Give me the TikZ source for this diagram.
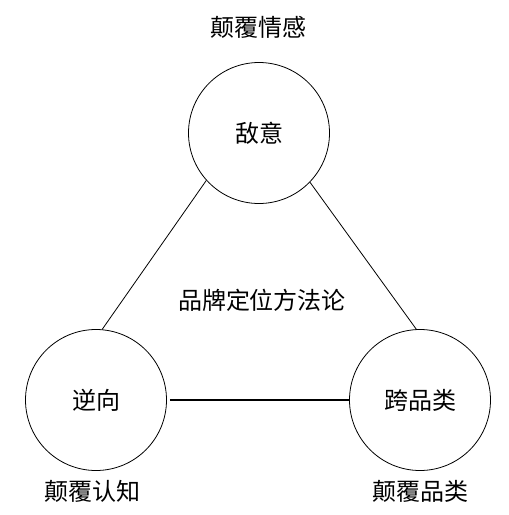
\documentclass[tikz,border=0pt]{standalone}
\usepackage{fontspec}
\setmainfont{Noto Sans CJK SC}
\begin{document}
\begin{tikzpicture}[x=1pt,y=-1pt,
	every node/.style={align=center,font=\fontsize{24}{28}\selectfont},
	ring/.style={draw,circle,minimum size=141pt,inner sep=0pt,line width=0.8pt}]
	\useasboundingbox (0,0) rectangle (509,515);
	\node[ring] (diyi) at (259,133) {敌意};
	\node[ring] (nixiang) at (96,400) {逆向};
	\node[ring] (kuapinlei) at (420,400) {跨品类};
	\node (qinggan) at (258,27) {颠覆情感};
	\node (renzhi) at (93,491) {颠覆认知};
	\node (pinlei) at (420,491) {颠覆品类};
	\node (fangfalun) at (262,300) {品牌定位方法论};
	\draw[line width=0.8pt] (diyi.222) -- (nixiang.85);
	\draw[line width=0.8pt] (diyi.316) -- (kuapinlei.93);
	\draw[line width=1.6pt,shorten <=3pt] (nixiang) -- (kuapinlei);
\end{tikzpicture}
\end{document}
